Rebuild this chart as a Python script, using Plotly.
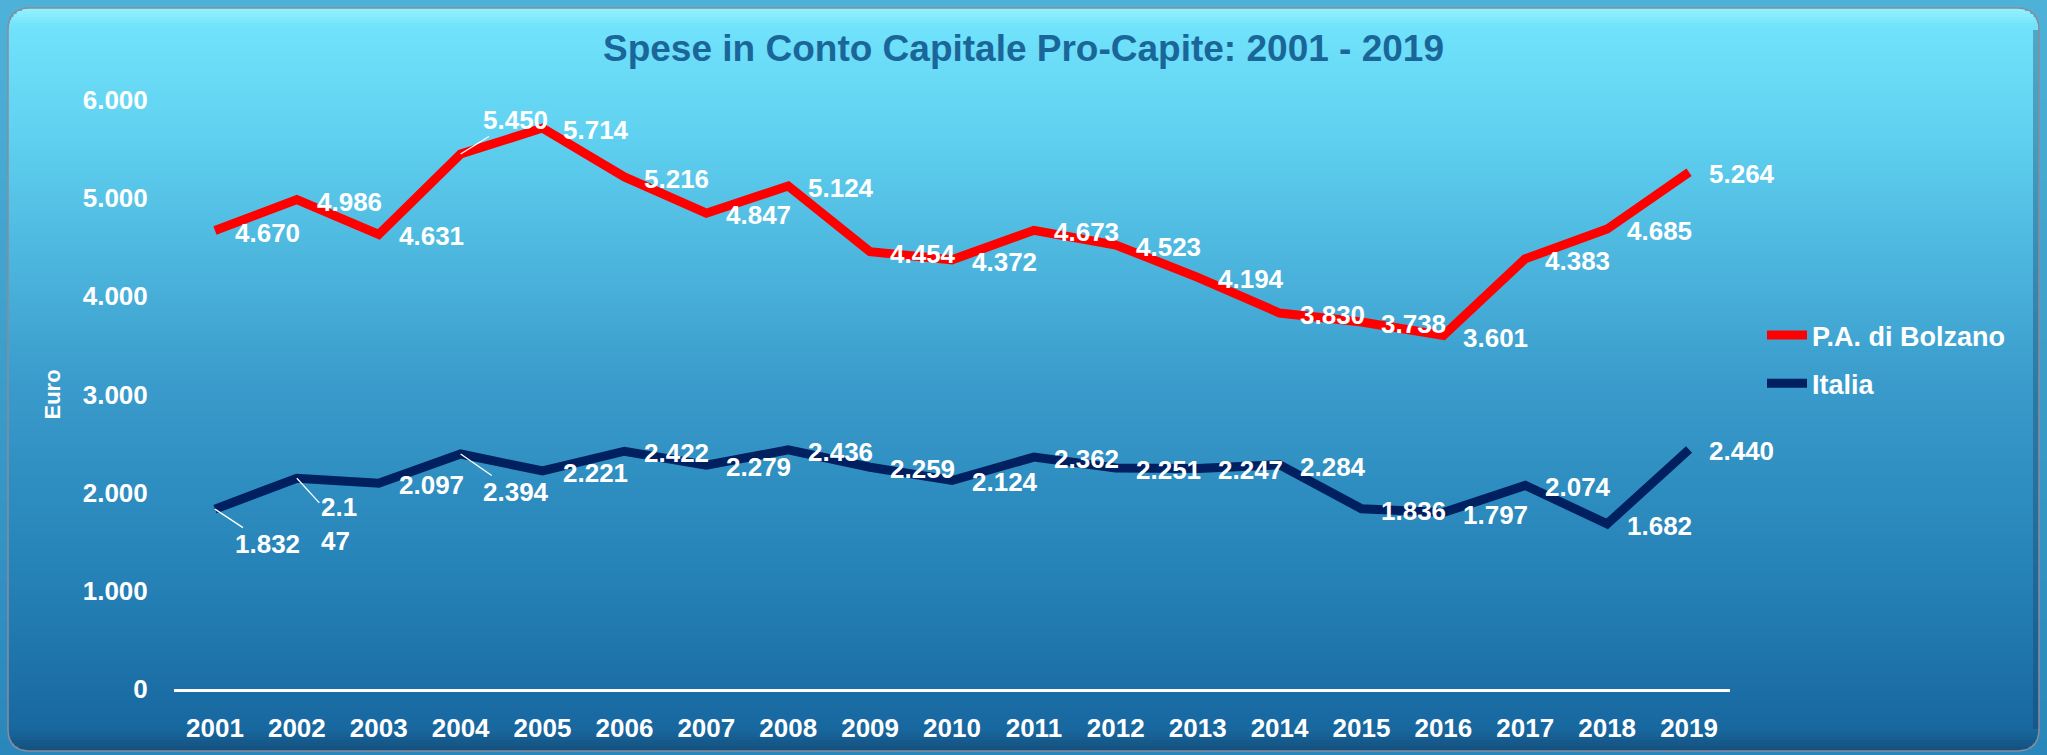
import math
import plotly.graph_objects as go

# dati (euro pro-capite)
years = [str(y) for y in range(2001, 2020)]
bolzano = [4670, 4986, 4631, 5450, 5714, 5216, 4847, 5124, 4454, 4372,
           4673, 4523, 4194, 3830, 3738, 3601, 4383, 4685, 5264]
italia = [1832, 2147, 2097, 2394, 2221, 2422, 2279, 2436, 2259, 2124,
          2362, 2251, 2247, 2284, 1836, 1797, 2074, 1682, 2440]
y_ticks = [0, 1000, 2000, 3000, 4000, 5000, 6000]

W, H = 2047, 755
M_L, M_R, M_T, M_B = 174, W - 1730, 100, 66
FONT = "Liberation Sans, Arial, sans-serif"


def fmt(v):
    return f"{v:,}".replace(",", ".")


def px_x(px):
    return (px - M_L) / (W - M_L - M_R)


def px_y(py):
    return (H - M_B - py) / (H - M_T - M_B)


def lerp_color(stops, t):
    for (t0, c0), (t1, c1) in zip(stops, stops[1:]):
        if t0 <= t <= t1:
            f = (t - t0) / (t1 - t0) if t1 > t0 else 0
            rgb = [int(round(c0[i] + (c1[i] - c0[i]) * f)) for i in range(3)]
            return "rgb({},{},{})".format(*rgb)
    c = stops[-1][1]
    return "rgb({},{},{})".format(*c)


def background_shapes():
    shapes = []
    # sfondo esterno
    outer = [(0, (78, 178, 216)), (1, (40, 134, 186))]
    step = 20
    for y in range(0, H, step):
        shapes.append(dict(type="rect", xref="paper", yref="paper", layer="below",
                           x0=px_x(0), x1=px_x(W), y0=px_y(y + step + 1), y1=px_y(y),
                           fillcolor=lerp_color(outer, y / H), line_width=0))
    # pannello con gradiente e angoli arrotondati
    x0, x1, y0, y1, r = 8, 2039, 8, 751, 22
    inner = [(0, (150, 242, 255)), (0.025, (112, 226, 251)), (0.15, (98, 212, 242)),
             (0.5, (58, 156, 204)), (0.78, (36, 128, 181)), (0.97, (24, 104, 160)),
             (1, (20, 80, 125))]
    step = 3
    y = y0
    while y < y1:
        yc = y + step / 2
        inset = 0
        if yc < y0 + r:
            d = y0 + r - yc
            inset = r - math.sqrt(max(r * r - d * d, 0))
        elif yc > y1 - r:
            d = yc - (y1 - r)
            inset = r - math.sqrt(max(r * r - d * d, 0))
        shapes.append(dict(type="rect", xref="paper", yref="paper", layer="below",
                           x0=px_x(x0 + inset), x1=px_x(x1 - inset),
                           y0=px_y(min(y + step + 0.6, y1)), y1=px_y(y),
                           fillcolor=lerp_color(inner, (yc - y0) / (y1 - y0)), line_width=0))
        y += step
    # ombra sul bordo destro
    shapes.append(dict(type="rect", xref="paper", yref="paper", layer="below",
                       x0=px_x(x1 - 6), x1=px_x(x1), y0=px_y(y1 - r), y1=px_y(y0 + r),
                       fillcolor="rgba(20,60,100,0.35)", line_width=0))
    # bordo
    path = (f"M{px_x(x0 + r)},{px_y(y0)} L{px_x(x1 - r)},{px_y(y0)} "
            f"Q{px_x(x1)},{px_y(y0)} {px_x(x1)},{px_y(y0 + r)} "
            f"L{px_x(x1)},{px_y(y1 - r)} Q{px_x(x1)},{px_y(y1)} {px_x(x1 - r)},{px_y(y1)} "
            f"L{px_x(x0 + r)},{px_y(y1)} Q{px_x(x0)},{px_y(y1)} {px_x(x0)},{px_y(y1 - r)} "
            f"L{px_x(x0)},{px_y(y0 + r)} Q{px_x(x0)},{px_y(y0)} {px_x(x0 + r)},{px_y(y0)} Z")
    shapes.append(dict(type="path", xref="paper", yref="paper", layer="below",
                       path=path, line=dict(color="#8a8c9c", width=1.5)))
    return shapes


def label_annotations(values, leaders, special_text):
    # asse categorico: le annotazioni usano l'indice della categoria
    anns = []
    for i, v in enumerate(values):
        text = special_text.get(i, fmt(v))
        base = dict(x=i, y=v, xref="x", yref="y", text=text,
                    font=dict(family=FONT, size=26, color="white", weight="bold"))
        if i in leaders:
            ax, ay = leaders[i]
            base.update(showarrow=True, ax=ax, ay=ay, arrowhead=0, arrowwidth=1.3,
                        arrowcolor="white", standoff=0, align="left")
        else:
            base.update(showarrow=False, xanchor="left", xshift=18, yshift=-2)
        anns.append(base)
    return anns


fig = go.Figure()

fig.add_trace(go.Scatter(
    x=years, y=bolzano, mode="lines", name="P.A. di Bolzano",
    line=dict(color="#ff0000", width=9), legendgroup="a"
))
fig.add_trace(go.Scatter(
    x=years, y=italia, mode="lines", name="Italia",
    line=dict(color="#002060", width=9), legendgroup="b"
))

annotations = []
annotations += label_annotations(bolzano, {3: (55, -34)}, {})
annotations += label_annotations(italia, {0: (53, 35), 1: (42, 46), 3: (55, 38)}, {1: "2.1<br>47"})
annotations.append(dict(x=px_x(52), y=0.5, xref="paper", yref="paper", text="Euro",
                        textangle=-90, showarrow=False, xanchor="center", yanchor="middle",
                        font=dict(family=FONT, size=22, color="white", weight="bold")))

fig.update_layout(
    width=W, height=H,
    margin=dict(l=M_L, r=M_R, t=M_T, b=M_B, autoexpand=False),
    paper_bgcolor="#3a9bcb",
    plot_bgcolor="rgba(0,0,0,0)",
    separators=",.",
    title=dict(text="Spese in Conto Capitale Pro-Capite: 2001 - 2019",
               x=0.5, xref="container", xanchor="center",
               y=1 - 48 / H, yref="container", yanchor="middle",
               font=dict(family=FONT, size=37, color="#1b6699", weight="bold")),
    xaxis=dict(type="category", range=[-0.5, 18.5], showgrid=False, zeroline=False,
               showline=True, linecolor="white", linewidth=2.5, automargin=False,
               ticks="outside", ticklen=14, tickcolor="rgba(0,0,0,0)",
               tickfont=dict(family=FONT, size=26, color="white", weight="bold")),
    yaxis=dict(range=[0, 6000], tickvals=y_ticks, tickformat=",d", automargin=False,
               showgrid=False, zeroline=False, showline=False,
               ticks="outside", ticklen=20, tickcolor="rgba(0,0,0,0)",
               tickfont=dict(family=FONT, size=26, color="white", weight="bold")),
    legend=dict(x=1762 / W, xref="container", xanchor="left",
                y=1 - 311 / H, yref="container", yanchor="top",
                bgcolor="rgba(0,0,0,0)", tracegroupgap=10, itemwidth=40,
                font=dict(family=FONT, size=27, color="white", weight="bold")),
    shapes=background_shapes(),
    annotations=annotations,
)

# la pagina di default ha 8px di margine sul body: lo azzero
fig.write_html("out.html", config={"displayModeBar": False},
               post_script="document.body.style.margin='0';")
